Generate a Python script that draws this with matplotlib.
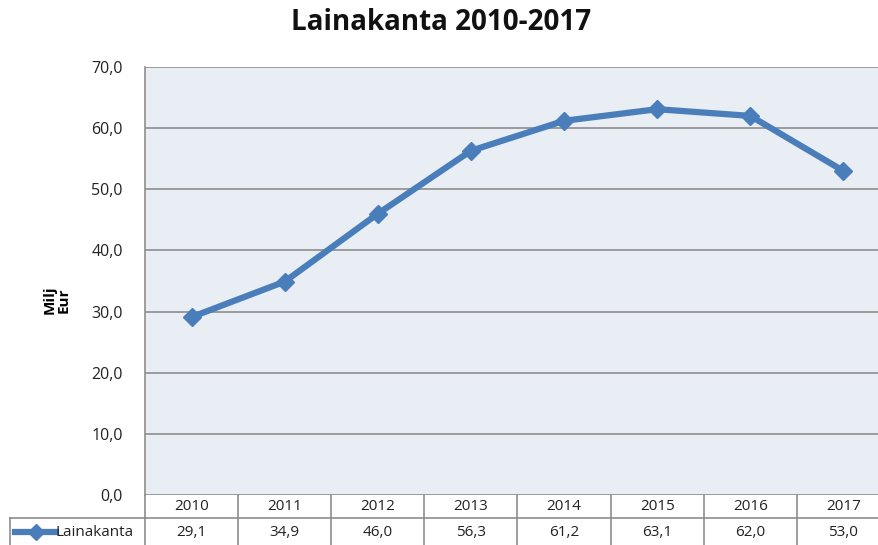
import matplotlib
matplotlib.use("Agg")
import matplotlib.pyplot as plt
from matplotlib.lines import Line2D
import matplotlib.transforms as mtrans

years = ["2010", "2011", "2012", "2013", "2014", "2015", "2016", "2017"]
values = [29.1, 34.9, 46.0, 56.3, 61.2, 63.1, 62.0, 53.0]
series_name = "Lainakanta"
yticks = [0, 10, 20, 30, 40, 50, 60, 70]

plt.rcParams['font.family'] = ['Open Sans', 'DejaVu Sans']
W, H = 879, 545
fig = plt.figure(figsize=(W/100, H/100), dpi=100)
fig.patch.set_facecolor("white")

L, R, T, B = 145, 890, 67, 495
ax = fig.add_axes([L/W, (H-B)/H, (R-L)/W, (B-T)/H])
ax.set_facecolor("#E9EDF4")
line_col = "#4A7EBB"
grid_col = "#8E8E8E"

x = list(range(len(years)))
ax.plot(x, values, color=line_col, lw=4.5, marker="D", ms=9, mec=line_col, mfc=line_col,
        solid_joinstyle="round", zorder=3)
ax.set_xlim(-0.5, len(years) - 0.5)
ax.set_ylim(0, 70)
ax.set_yticks(yticks)
ax.set_yticklabels([f"{v:.1f}".replace(".", ",") for v in yticks], fontsize=11.5, color="#222222")
ax.set_xticks([])
ax.tick_params(axis="y", length=0, pad=16)
for v in yticks:
    ax.axhline(v, color=grid_col, lw=1.2, zorder=1)
for s in ["top", "right", "bottom"]:
    ax.spines[s].set_visible(False)
ax.spines["left"].set_color(grid_col)
ax.spines["left"].set_linewidth(1.2)

# data table below the axes
ph = B - T
yr_bot = -23 / ph
val_bot = -60 / ph
tr = mtrans.blended_transform_factory(ax.transData, ax.transAxes)
for i in range(len(years) + 1):
    ax.add_line(Line2D([i - 0.5, i - 0.5], [0, val_bot], transform=tr, color=grid_col, lw=1.2, clip_on=False))
ax.add_line(Line2D([-0.5, len(years) - 0.5], [yr_bot, yr_bot], transform=tr, color=grid_col, lw=1.2, clip_on=False))
for i, (yr, v) in enumerate(zip(years, values)):
    ax.text(i, -11.5 / ph, yr, transform=tr, ha="center", va="center", fontsize=11, color="#222222")
    ax.text(i, -37 / ph, f"{v:.1f}".replace(".", ","), transform=tr, ha="center", va="center",
            fontsize=11, color="#222222")

# left header cell
axl = lambda px: (px - L) / (R - L)
ta = ax.transAxes
ax.add_line(Line2D([axl(10), 0], [yr_bot, yr_bot], transform=ta, color=grid_col, lw=1.2, clip_on=False))
ax.add_line(Line2D([axl(10), axl(10)], [yr_bot, val_bot], transform=ta, color=grid_col, lw=1.2, clip_on=False))
ax.add_line(Line2D([axl(15), axl(56)], [-37 / ph, -37 / ph], transform=ta, color=line_col, lw=4.5, clip_on=False))
ax.add_line(Line2D([axl(36)], [-37 / ph], transform=ta, marker="D", ms=8, color=line_col, clip_on=False))
ax.text(axl(56), -37 / ph, series_name, transform=ta, ha="left", va="center", fontsize=11, color="#222222")

# y label
fig.text(57 / W, 1 - 300 / H, "Milj\nEur", rotation=90, ha="center", va="center",
         fontsize=11, fontweight="bold", linespacing=1.0)

# title
fig.text(441 / W, 1 - 22 / H, "Lainakanta 2010-2017", ha="center", va="center",
         fontsize=20, fontweight="bold", color="#111111")

fig.savefig("out.png", dpi=100)
